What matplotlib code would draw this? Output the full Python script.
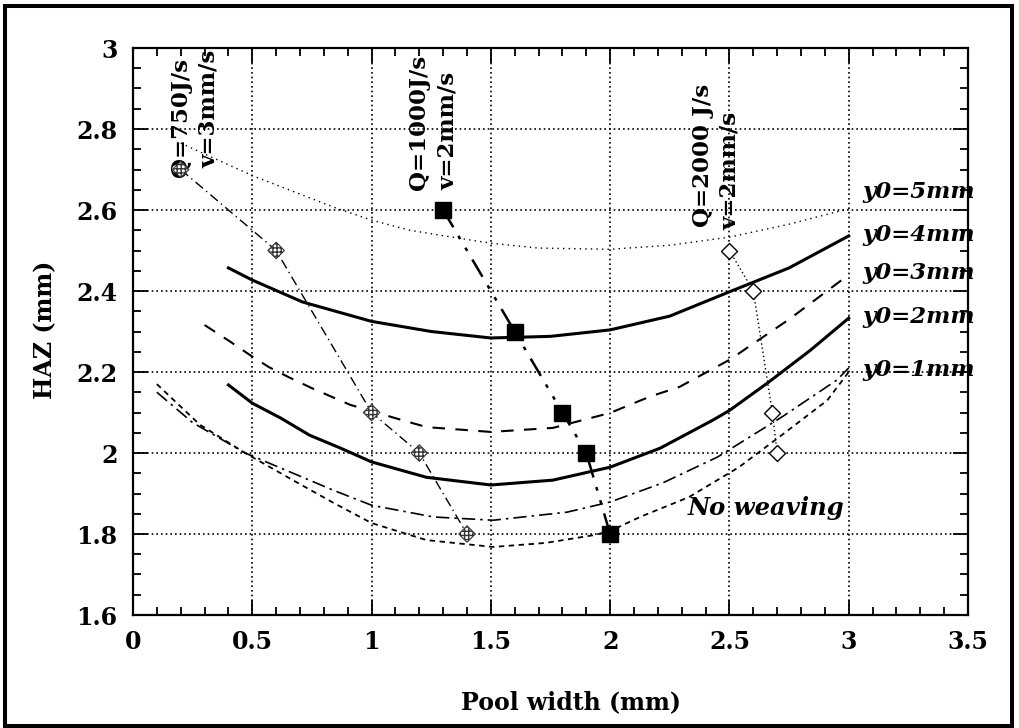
import matplotlib
matplotlib.use("Agg")
import matplotlib.pyplot as plt
from matplotlib.patches import Rectangle
from matplotlib.ticker import MultipleLocator

# HAZ width versus pool width for different weaving amplitudes y0
y5_x = [0.2, 0.5, 0.85, 1.0, 1.16, 1.37, 1.5, 1.7, 2.0, 2.25, 2.5, 2.75, 3.0]
y5_y = [2.765, 2.685, 2.605, 2.575, 2.55, 2.53, 2.518, 2.506, 2.503, 2.513, 2.533, 2.565, 2.603]

y4_x = [0.4, 0.5, 0.71, 1.0, 1.25, 1.5, 1.75, 2.0, 2.25, 2.5, 2.75, 3.0]
y4_y = [2.457, 2.427, 2.373, 2.325, 2.30, 2.284, 2.288, 2.304, 2.338, 2.398, 2.457, 2.536]

y3_x = [0.3, 0.41, 0.49, 0.57, 0.65, 0.75, 0.91, 1.1, 1.23, 1.5, 1.76, 2.0, 2.17, 2.29, 2.5, 2.75, 3.0]
y3_y = [2.316, 2.274, 2.242, 2.212, 2.188, 2.16, 2.119, 2.086, 2.064, 2.052, 2.062, 2.099, 2.14, 2.163, 2.23, 2.33, 2.44]

y2_x = [0.4, 0.5, 0.62, 0.74, 0.87, 1.0, 1.23, 1.5, 1.76, 2.0, 2.21, 2.43, 2.5, 2.66, 2.84, 3.0]
y2_y = [2.168, 2.123, 2.086, 2.044, 2.012, 1.978, 1.94, 1.921, 1.933, 1.965, 2.012, 2.081, 2.105, 2.173, 2.254, 2.333]

y1_x = [0.1, 0.25, 0.47, 0.84, 1.0, 1.26, 1.51, 1.82, 2.0, 2.22, 2.45, 2.72, 2.95, 3.0]
y1_y = [2.15, 2.075, 2.0, 1.908, 1.871, 1.842, 1.834, 1.854, 1.879, 1.926, 1.99, 2.089, 2.18, 2.21]

nw_x = [0.1, 0.28, 0.47, 0.67, 0.84, 1.0, 1.23, 1.51, 1.73, 1.94, 2.01, 2.125, 2.33, 2.54, 2.71, 2.91, 3.0]
nw_y = [2.17, 2.07, 2.0, 1.933, 1.877, 1.827, 1.785, 1.768, 1.778, 1.798, 1.81, 1.842, 1.891, 1.965, 2.04, 2.13, 2.2]

# Operating-condition series
q750_x = [0.2, 0.6, 1.0, 1.2, 1.4]
q750_y = [2.7, 2.5, 2.1, 2.0, 1.8]
q1000_x = [1.3, 1.6, 1.8, 1.9, 2.0]
q1000_y = [2.6, 2.3, 2.1, 2.0, 1.8]
q2000_x = [2.5, 2.6, 2.68, 2.7]
q2000_y = [2.5, 2.4, 2.1, 2.0]

x_ticks = [0, 0.5, 1, 1.5, 2, 2.5, 3, 3.5]
x_tick_labels = ["0", "0.5", "1", "1.5", "2", "2.5", "3", "3.5"]
y_ticks = [1.6, 1.8, 2.0, 2.2, 2.4, 2.6, 2.8, 3.0]
y_tick_labels = ["1.6", "1.8", "2", "2.2", "2.4", "2.6", "2.8", "3"]

curve_labels = ["y0=5mm", "y0=4mm", "y0=3mm", "y0=2mm", "y0=1mm"]
curve_label_y = [2.644, 2.538, 2.444, 2.336, 2.205]

SERIF = "DejaVu Serif"
plt.rcParams["font.family"] = SERIF
plt.rcParams["font.weight"] = "bold"

fig = plt.figure(figsize=(10.19, 7.28), dpi=100)
ax = fig.add_axes([133 / 1019, 113 / 728, 835 / 1019, 567 / 728])

ax.set_xlim(0, 3.5)
ax.set_ylim(1.6, 3.0)

# grid on major ticks
ax.set_xticks(x_ticks)
ax.set_xticklabels(x_tick_labels)
ax.set_yticks(y_ticks)
ax.set_yticklabels(y_tick_labels)
ax.xaxis.set_minor_locator(MultipleLocator(0.1))
ax.yaxis.set_minor_locator(MultipleLocator(0.05))
ax.grid(True, which="major", color="black", linestyle=(0, (1, 1.8)), linewidth=1.2)

ax.tick_params(which="both", direction="in", top=True, right=True, width=1.3, colors="black")
ax.tick_params(which="major", length=10.5, labelsize=17, pad=11)
ax.tick_params(which="minor", length=5.5)
for lab in ax.get_xticklabels() + ax.get_yticklabels():
    lab.set_fontweight("bold")
for sp in ax.spines.values():
    sp.set_linewidth(1.6)

# y0 curves
ax.plot(y5_x, y5_y, color="black", lw=1.0, linestyle=(0, (1, 3)))
ax.plot(y4_x, y4_y, color="black", lw=2.2, linestyle="-")
ax.plot(y3_x, y3_y, color="black", lw=1.5, linestyle=(0, (6, 5)))
ax.plot(y2_x, y2_y, color="black", lw=2.2, linestyle="-")
ax.plot(y1_x, y1_y, color="black", lw=1.2, linestyle=(0, (8, 3, 1.5, 3)))
ax.plot(nw_x, nw_y, color="black", lw=1.3, linestyle=(0, (3, 2.5)))

# Q = 750 J/s, v = 3 mm/s
ax.plot(q750_x, q750_y, color="black", lw=1.0, linestyle=(0, (7, 3, 1, 3)), zorder=3)
ax.scatter(q750_x, q750_y, marker="D", s=70, facecolor="white", edgecolor="#333333",
           hatch="++++", linewidths=0.8, zorder=4)

# Q = 1000 J/s, v = 2 mm/s
ax.plot(q1000_x, q1000_y, color="black", lw=1.8, linestyle=(0, (8, 4, 1.5, 4, 1.5, 4)), zorder=3)
ax.plot(q1000_x, q1000_y, linestyle="none", marker="s", markersize=12,
        markerfacecolor="black", markeredgecolor="black", zorder=4)

# Q = 2000 J/s, v = 2 mm/s
ax.plot(q2000_x, q2000_y, color="black", lw=1.0, linestyle=(0, (1, 2)), zorder=3)
ax.plot(q2000_x, q2000_y, linestyle="none", marker="D", markersize=8,
        markerfacecolor="white", markeredgecolor="black", markeredgewidth=1.0, zorder=4)

# rotated condition labels
rot_kw = dict(rotation=90, ha="center", va="bottom", fontsize=16.5, fontweight="bold", clip_on=False)
ax.text(0.20, 2.681, "Q=750J/s", **rot_kw)
ax.text(0.32, 2.704, "v=3mm/s", **rot_kw)
ax.text(1.20, 2.649, "Q=1000J/s", **rot_kw)
ax.text(1.32, 2.649, "v=2mm/s", **rot_kw)
ax.text(2.39, 2.558, "Q=2000 J/s", **rot_kw)
ax.text(2.50, 2.551, "v=2mm/s", **rot_kw)

# curve labels at the right edge
for lab, yy in zip(curve_labels, curve_label_y):
    ax.text(1.0084, yy, lab, transform=ax.get_yaxis_transform(), ha="right", va="center",
            fontsize=16.5, fontweight="bold", style="italic", clip_on=False)
ax.text(2.326, 1.864, "No weaving", ha="left", va="center", fontsize=17.5,
        fontweight="bold", style="italic")

ax.set_xlabel("Pool width (mm)", fontsize=17, fontweight="bold")
ax.set_ylabel("HAZ (mm)", fontsize=17, fontweight="bold")
ax.xaxis.set_label_coords((571 - 133) / 835, -0.132)
ax.yaxis.set_label_coords((57 - 133) / 835, 0.503)

# outer frame around the whole figure
fig.add_artist(Rectangle((4.5 / 1019, 2 / 728), 1007.5 / 1019, 720.5 / 728,
                         transform=fig.transFigure, fill=False, edgecolor="black", linewidth=2.9))

fig.savefig("out.png", dpi=100)
